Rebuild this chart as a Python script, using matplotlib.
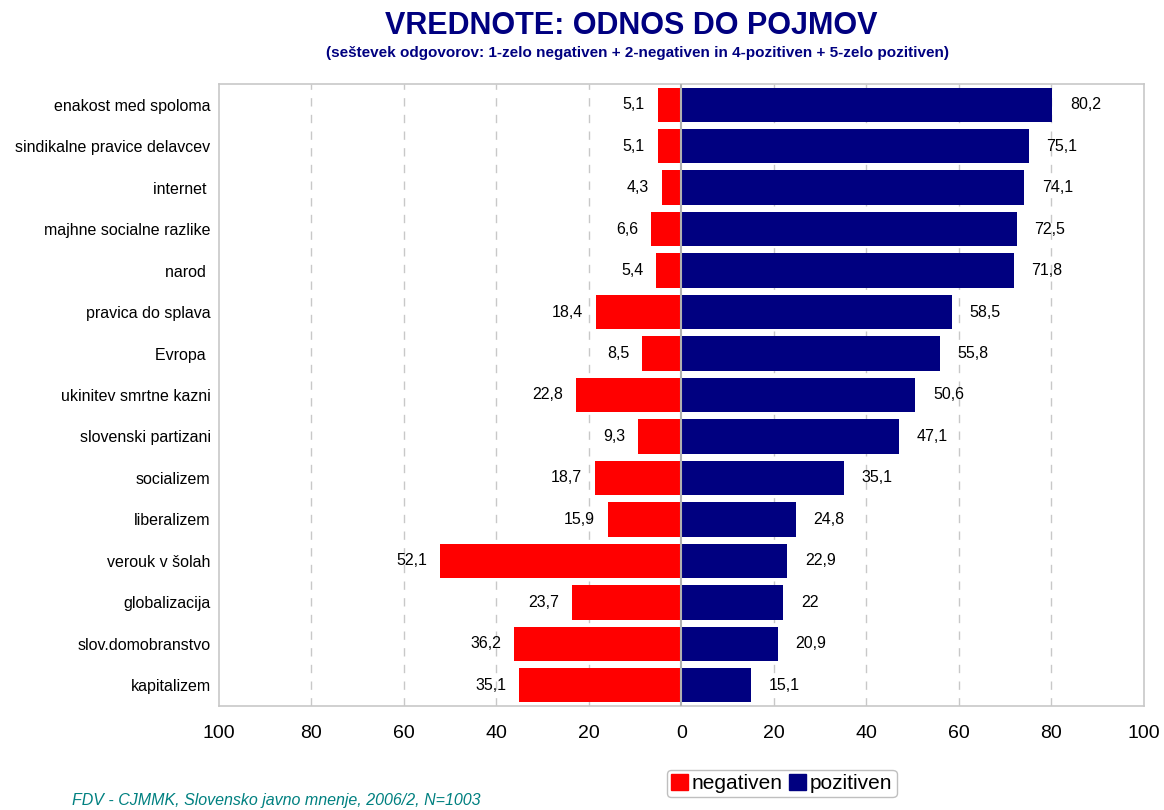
import numpy as np
import matplotlib.pyplot as plt
from matplotlib.patches import Patch

# podatki
pojmi = ["enakost med spoloma", "sindikalne pravice delavcev", "internet ",
         "majhne socialne razlike", "narod ", "pravica do splava", "Evropa ",
         "ukinitev smrtne kazni", "slovenski partizani", "socializem",
         "liberalizem", "verouk v šolah", "globalizacija", "slov.domobranstvo",
         "kapitalizem"]
negativen = [5.1, 5.1, 4.3, 6.6, 5.4, 18.4, 8.5, 22.8, 9.3, 18.7, 15.9, 52.1, 23.7, 36.2, 35.1]
pozitiven = [80.2, 75.1, 74.1, 72.5, 71.8, 58.5, 55.8, 50.6, 47.1, 35.1, 24.8, 22.9, 22, 20.9, 15.1]

fam = ['Liberation Sans', 'DejaVu Sans']
plt.rcParams['font.family'] = fam

fig = plt.figure(figsize=(11.64, 8.10), dpi=100)
ax = fig.add_axes([0.1881, 0.1284, 0.7947, 0.7679])

y = np.arange(len(pojmi))
ax.barh(y, [-v for v in negativen], height=0.83, color='#ff0000', zorder=2)
ax.barh(y, pozitiven, height=0.83, color='#000080', zorder=2)

def fmt(v):
    return str(v).replace('.', ',') if v != int(v) else str(int(v))

for i in range(len(pojmi)):
    ax.text(-negativen[i] - 2.8, y[i], fmt(negativen[i]), ha='right', va='center', fontsize=11.5)
    ax.text(pozitiven[i] + 3.8, y[i], fmt(pozitiven[i]), ha='left', va='center', fontsize=11.5)

ax.set_xlim(-100, 100)
ax.set_ylim(len(pojmi) - 0.5, -0.5)
ax.set_yticks(y)
ax.set_yticklabels(pojmi, fontsize=11.5)
ticks = [-100, -80, -60, -40, -20, 0, 20, 40, 60, 80, 100]
ax.set_xticks(ticks)
ax.set_xticklabels([str(abs(t)) for t in ticks], fontsize=14)
ax.tick_params(axis='x', length=0, pad=14)
ax.tick_params(axis='y', length=0, pad=6)

for t in [-80, -60, -40, -20, 20, 40, 60, 80]:
    ax.axvline(t, color='#c8c8c8', linestyle=(0, (6, 6)), linewidth=1, zorder=1)
ax.axvline(0, color='#b0b0b0', linewidth=1.5, zorder=3)

for s in ax.spines.values():
    s.set_color('#c8c8c8')
    s.set_linewidth(1.2)

fig.text(0.542, 0.968, "VREDNOTE: ODNOS DO POJMOV", ha='center', va='center',
         fontsize=22, fontweight='bold', color='#000080')
fig.text(0.548, 0.934, "(seštevek odgovorov: 1-zelo negativen + 2-negativen in 4-pozitiven + 5-zelo pozitiven)",
         ha='center', va='center', fontsize=11, fontweight='bold', color='#000080')

leg = fig.legend(handles=[Patch(color='#ff0000', label='negativen'),
                          Patch(color='#000080', label='pozitiven')],
                 loc='center', bbox_to_anchor=(0.6715, 0.0327), ncol=2, fontsize=15,
                 frameon=True, fancybox=True, edgecolor='#b0b0b0',
                 handlelength=0.8, handleheight=0.8, handletextpad=0.2,
                 columnspacing=0.3, borderpad=0.2)

fig.text(0.062, 0.002, "FDV - CJMMK, Slovensko javno mnenje, 2006/2, N=1003", ha='left', va='bottom',
         fontsize=11.5, style='italic', color='#008080')

fig.savefig('out.png', dpi=100)
